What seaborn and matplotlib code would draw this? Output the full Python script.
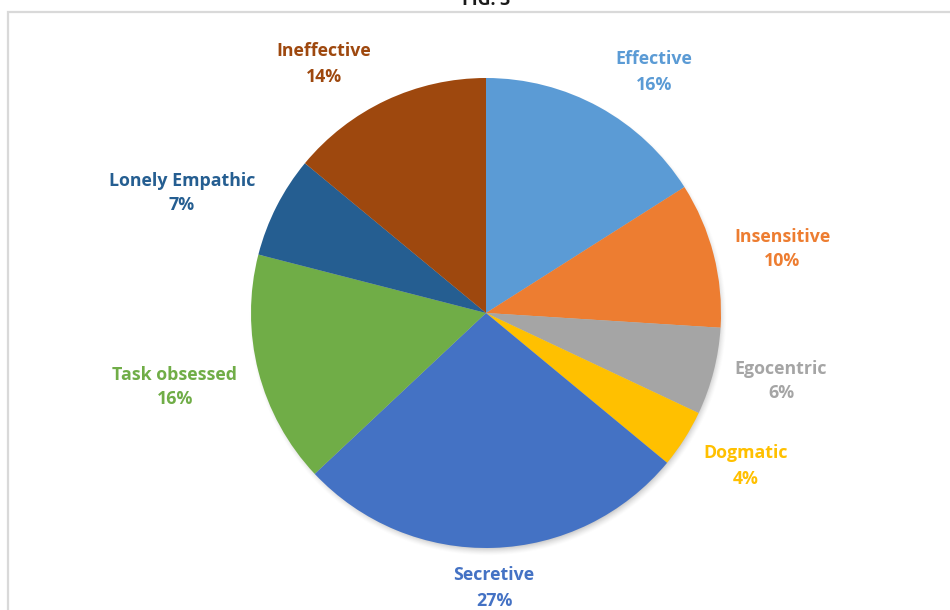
import numpy as np
import matplotlib
matplotlib.use("Agg")
import matplotlib.pyplot as plt
from matplotlib.patches import Rectangle
import seaborn as sns

# Share of each leadership style (percent), clockwise from 12 o'clock
categories = ["Effective", "Insensitive", "Egocentric", "Dogmatic",
              "Secretive", "Task obsessed", "Lonely Empathic", "Ineffective"]
shares = [16, 10, 6, 4, 27, 16, 7, 14]
slice_colors = ["#5B9BD5", "#ED7D31", "#A5A5A5", "#FFC000",
                "#4472C4", "#70AD47", "#255E91", "#9E480E"]
title = "FIG. 3"

# Label anchor points in pixel space (x from left, y from top)
label_xy = [(654, 72), (782, 249), (781, 381), (746, 466),
            (494, 588), (175, 387), (182, 193), (324, 64)]

sns.set_theme(style="white")
plt.rcParams["font.family"] = ["Open Sans", "DejaVu Sans"]

W, H = 950, 610
fig = plt.figure(figsize=(W / 100, H / 100), dpi=100)
ax = fig.add_axes([0, 0, 1, 1])
ax.set_xlim(0, W)
ax.set_ylim(0, H)
ax.set_axis_off()

cx, cy, R = 486, H - 313, 235

# chart frame (only top and left edges fall inside the canvas)
ax.add_patch(Rectangle((7.5, -50), W + 100, H - 11.5 + 50, fill=False,
                       edgecolor="#D9D9D9", linewidth=1.6, zorder=0))

# soft drop shadow under the pie
gx, gy = np.meshgrid(np.arange(W) + 0.5, np.arange(H) + 0.5)
d = np.hypot(gx - (cx + 2), gy - (cy - 4))
alpha = np.clip((R + 4 - d) / 9.0, 0, 1) ** 1.5 * 0.35
shadow = np.zeros((H, W, 4))
shadow[..., :3] = 0.35
shadow[..., 3] = alpha
ax.imshow(shadow, extent=(0, W, 0, H), origin="lower", zorder=1,
          interpolation="bilinear")

palette = sns.color_palette(slice_colors)
wedges, _ = ax.pie(shares, colors=palette, startangle=90, counterclock=False,
                   center=(cx, cy), radius=R, frame=True,
                   wedgeprops=dict(linewidth=0))
for w in wedges:
    w.set_zorder(2)
ax.set_xlim(0, W)
ax.set_ylim(0, H)
ax.set_aspect("equal")
ax.set_axis_off()

for name, val, col, (lx, ly) in zip(categories, shares, slice_colors, label_xy):
    ax.text(lx, H - ly, f"{name}\n{val}%", color=col, fontsize=12.8,
            fontweight="bold", ha="center", va="center",
            linespacing=1.5, zorder=3)

ax.text(486, H - 5, title, fontsize=12.8, fontweight="bold", color="#1A1A1A",
        ha="center", va="baseline", zorder=3)

fig.savefig("out.png", dpi=100)
